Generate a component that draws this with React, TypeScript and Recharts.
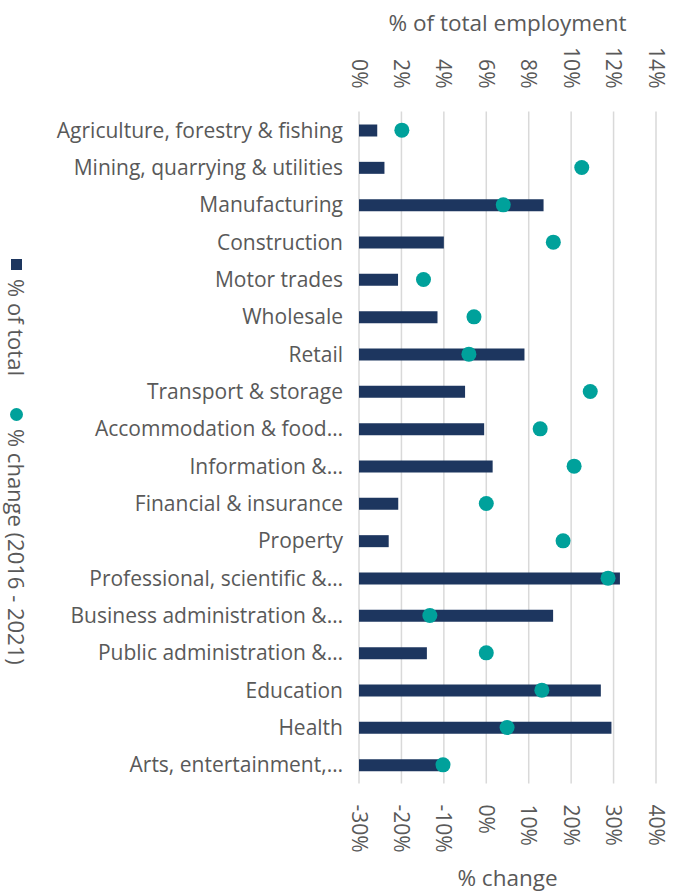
import { ComposedChart, Bar, Line, XAxis, YAxis, CartesianGrid, Label } from 'recharts'

const categories = [
  'Agriculture, forestry & fishing',
  'Mining, quarrying & utilities',
  'Manufacturing',
  'Construction',
  'Motor trades',
  'Wholesale',
  'Retail',
  'Transport & storage',
  'Accommodation & food\u2026',
  'Information &\u2026',
  'Financial & insurance',
  'Property',
  'Professional, scientific &\u2026',
  'Business administration &\u2026',
  'Public administration &\u2026',
  'Education',
  'Health',
  'Arts, entertainment,\u2026',
]

// % of total employment
const shareOfTotal = [0.86, 1.2, 8.7, 4.0, 1.84, 3.7, 7.8, 5.0, 5.9, 6.3, 1.85, 1.4, 12.3, 9.15, 3.2, 11.4, 11.9, 3.8]
// % change 2016 - 2021
const pctChange = [-19.9, 22.5, 4.0, 15.8, -14.8, -2.9, -4.1, 24.5, 12.7, 20.7, 0, 18.1, 28.7, -13.3, 0, 13.1, 4.9, -10.2]

const topTicks = [0, 2, 4, 6, 8, 10, 12, 14]
const bottomTicks = [-30, -20, -10, 0, 10, 20, 30, 40]

const NAVY = '#1d365f'
const TEAL = '#00a19b'
const TEXT = '#595959'
const FONT = '"Open Sans", sans-serif'

const rows = categories.map((name, i) => ({
  name,
  share: shareOfTotal[i],
  change: pctChange[i],
}))

function TopTick({ x, y, payload }: any) {
  return (
    <text
      transform={`translate(${x},${y}) rotate(90)`}
      textAnchor="end"
      dy="0.35em"
      fill={TEXT}
      fontSize={21}
      fontFamily={FONT}
    >
      {payload.value}%
    </text>
  )
}

function BottomTick({ x, y, payload }: any) {
  return (
    <text
      transform={`translate(${x},${y}) rotate(90)`}
      textAnchor="start"
      dy="0.35em"
      fill={TEXT}
      fontSize={21}
      fontFamily={FONT}
    >
      {payload.value}%
    </text>
  )
}

function AxisTitle({ viewBox, value, dy }: any) {
  return (
    <text
      x={viewBox.x + viewBox.width / 2}
      y={viewBox.y + dy}
      textAnchor="middle"
      dominantBaseline="central"
      fill={TEXT}
      fontSize={22.5}
      fontFamily={FONT}
    >
      {value}
    </text>
  )
}

export default function App() {
  return (
    <div style={{ position: 'absolute', left: 0, top: 0, width: 675, height: 894, background: '#fff' }}>
      <ComposedChart
        width={675}
        height={894}
        data={rows}
        layout="vertical"
        margin={{ top: 0, right: 19, bottom: 0, left: 0 }}
      >
        <CartesianGrid xAxisId="top" horizontal={false} stroke="#d9d9d9" strokeWidth={1.5} />
        <XAxis
          xAxisId="top"
          type="number"
          orientation="top"
          domain={[0, 14]}
          ticks={topTicks}
          height={111.5}
          tickSize={0}
          tickMargin={23}
          axisLine={false}
          tick={<TopTick />}
          interval={0}
        >
          <Label content={(p: any) => <AxisTitle {...p} value="% of total employment" dy={22} />} />
        </XAxis>
        <XAxis
          xAxisId="bottom"
          type="number"
          orientation="bottom"
          domain={[-30, 40]}
          ticks={bottomTicks}
          height={110.5}
          tickSize={0}
          tickMargin={21}
          axisLine={false}
          tick={<BottomTick />}
          interval={0}
        >
          <Label content={(p: any) => <AxisTitle {...p} value="% change" dy={94} />} />
        </XAxis>
        <YAxis
          type="category"
          dataKey="name"
          width={359}
          tickSize={0}
          tickMargin={16}
          axisLine={false}
          tickLine={false}
          interval={0}
          tick={{ fill: TEXT, fontSize: 21, fontFamily: FONT }}
        />
        <Bar xAxisId="top" dataKey="share" fill={NAVY} barSize={12} isAnimationActive={false} />
        <Line
          xAxisId="bottom"
          dataKey="change"
          stroke="none"
          dot={{ r: 7.5, fill: TEAL, stroke: 'none' }}
          activeDot={false}
          isAnimationActive={false}
        />
      </ComposedChart>
      <div
        style={{
          position: 'absolute',
          left: 30,
          top: 259,
          transform: 'rotate(90deg)',
          transformOrigin: '0 0',
          whiteSpace: 'nowrap',
          display: 'flex',
          alignItems: 'center',
          height: 26,
          fontFamily: FONT,
          fontSize: 22,
          color: TEXT,
        }}
      >
        <span style={{ width: 11, height: 11, background: NAVY, marginRight: 9, display: 'inline-block' }} />
        <span>% of total</span>
        <span
          style={{ width: 13, height: 13, borderRadius: '50%', background: TEAL, marginLeft: 32, marginRight: 8, display: 'inline-block' }}
        />
        <span>% change (2016 - 2021)</span>
      </div>
    </div>
  )
}
